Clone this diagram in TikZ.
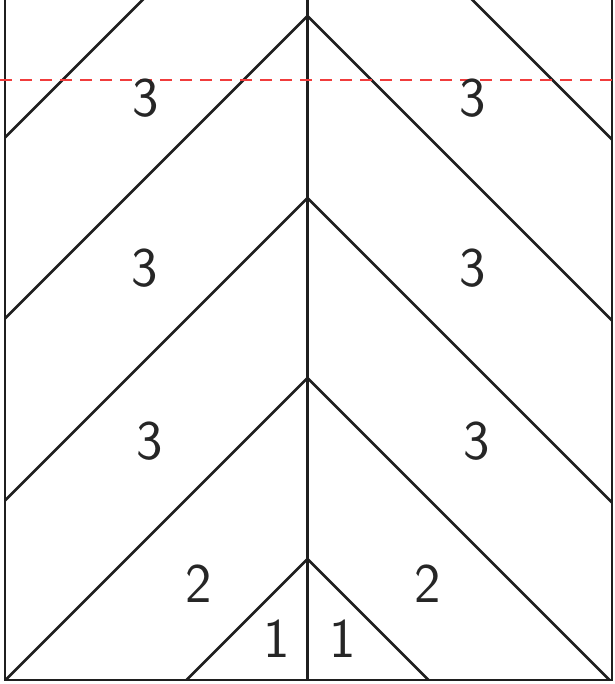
\documentclass[tikz,border=0pt]{standalone}
\definecolor{guidered}{RGB}{240,60,60}
\begin{document}
\begin{tikzpicture}[x=1pt,y=-1pt,
  edge/.style={line width=2.6pt,draw=black!88},
  guide/.style={line width=1.3pt,color=guidered,dash pattern=on 12pt off 8pt},
  num/.style={font=\sffamily\fontsize{56}{60}\selectfont,text=black!85,inner sep=0pt}]
\useasboundingbox (0,0) rectangle (614,684);
% outline points
\coordinate (tl) at (5,0);
\coordinate (bl) at (5,680);
\coordinate (tr) at (612,0);
\coordinate (br) at (612,680);
\coordinate (tc) at (307.5,0);
\coordinate (bc) at (307.5,680);
\coordinate (gl) at (0,80);
\coordinate (gr) at (614,80);
\begin{scope}
\clip (5,0) rectangle (612,680);
\foreach \a in {559,378,198,16,-165}{
  \draw[edge] (307.5,\a) -- ++(-330,330);
  \draw[edge] (307.5,\a) -- ++(330,330);
}
\end{scope}
\draw[edge] (tl) -- (bl) -- (br) -- (tr);
\draw[edge] (tc) -- (bc);
\draw[guide] (gl) -- (gr);
\node[num] (l3a) at (146,98) {3};
\node[num] (r3a) at (473,98) {3};
\node[num] (l3b) at (145,268) {3};
\node[num] (r3b) at (473,268) {3};
\node[num] (l3c) at (150,441) {3};
\node[num] (r3c) at (477,441) {3};
\node[num] (l2) at (199,584) {2};
\node[num] (r2) at (428,584) {2};
\node[num] (l1) at (277,639) {1};
\node[num] (r1) at (343,639) {1};
\end{tikzpicture}
\end{document}
